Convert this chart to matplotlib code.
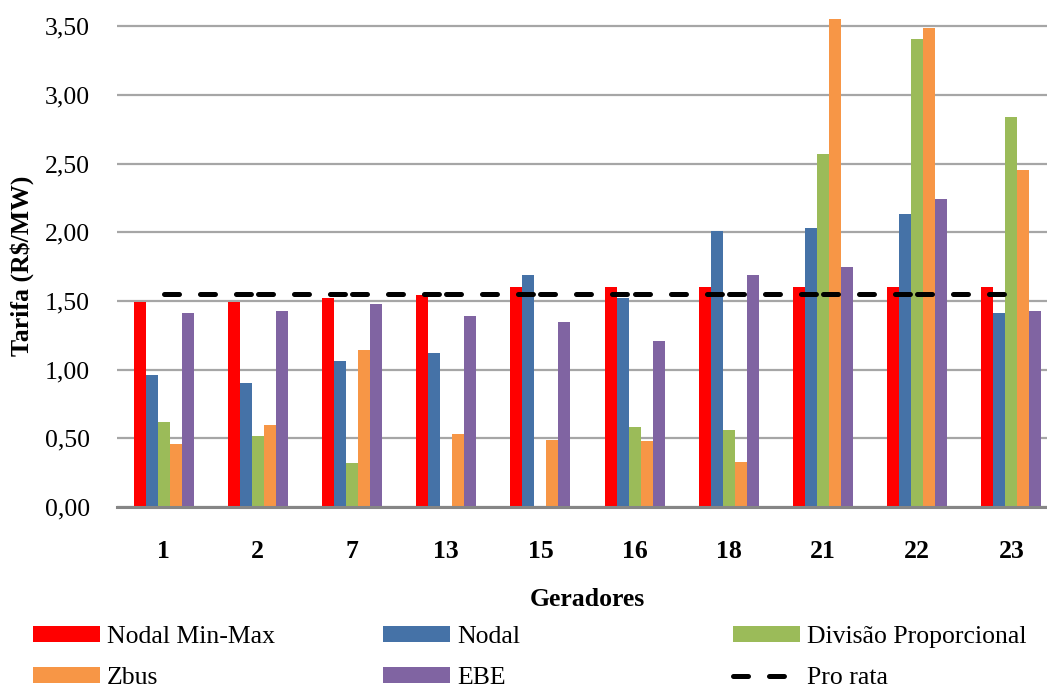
import matplotlib
matplotlib.use("Agg")
import matplotlib.pyplot as plt
from matplotlib.ticker import FuncFormatter
from matplotlib.lines import Line2D
import numpy as np

# Tariffs per generator (R$/MW)
geradores = ["1", "2", "7", "13", "15", "16", "18", "21", "22", "23"]
nodal_min_max = [1.49, 1.49, 1.52, 1.54, 1.60, 1.60, 1.60, 1.60, 1.60, 1.60]
nodal = [0.96, 0.90, 1.06, 1.12, 1.69, 1.52, 2.01, 2.03, 2.13, 1.41]
divisao_proporcional = [0.62, 0.52, 0.32, 0.00, 0.00, 0.58, 0.56, 2.57, 3.41, 2.84]
zbus = [0.46, 0.60, 1.14, 0.53, 0.49, 0.48, 0.33, 3.55, 3.49, 2.45]
ebe = [1.41, 1.43, 1.48, 1.39, 1.35, 1.21, 1.69, 1.75, 2.24, 1.43]
pro_rata = [1.55] * len(geradores)

series = [
    ("Nodal Min-Max", nodal_min_max, "#FF0000"),
    ("Nodal", nodal, "#4572A7"),
    ("Divisão Proporcional", divisao_proporcional, "#9BBB59"),
    ("Zbus", zbus, "#F79646"),
    ("EBE", ebe, "#8064A2"),
]

plt.rcParams["font.family"] = ["Liberation Serif", "DejaVu Serif"]
plt.rcParams["lines.scale_dashes"] = False
FS = 18.5

W, H = 1047, 688
fig = plt.figure(figsize=(W / 100, H / 100), dpi=100)
ax = fig.add_axes([116.5 / W, 181 / H, 942 / W, 494.6 / H])

x = np.arange(len(geradores))
bw = 0.1274
bars = []
for k, (name, vals, col) in enumerate(series):
    b = ax.bar(x + (k - 2) * bw, vals, width=bw, color=col, label=name,
               zorder=3, linewidth=0)
    bars.append(b)

# Pro rata line: each segment restarts its dash pattern
line_kw = dict(color="black", linewidth=3.6, dash_capstyle="round",
               dashes=(10.8, 15.1), zorder=4)
for i in range(len(x) - 1):
    ax.plot(x[i:i + 2], pro_rata[i:i + 2], **line_kw)

ax.set_xlim(-0.5, len(x) - 0.5)
ax.set_ylim(0, 3.6)
ax.set_yticks(np.arange(0, 3.51, 0.5))
ax.yaxis.set_major_formatter(FuncFormatter(lambda v, p: f"{v:.2f}".replace(".", ",")))
ax.set_xticks(x)
ax.set_xticklabels(geradores, fontweight="bold")
ax.tick_params(axis="both", length=0, labelsize=FS)
ax.tick_params(axis="x", pad=24)
ax.tick_params(axis="y", pad=19)

ax.grid(axis="y", color="#A6A6A6", linewidth=1.6, zorder=0)
ax.set_axisbelow(True)
for s in ["top", "right", "left"]:
    ax.spines[s].set_visible(False)
ax.spines["bottom"].set_color("#868686")
ax.spines["bottom"].set_linewidth(2.2)
ax.spines["bottom"].set_zorder(5)

fig.text(587.5 / W, 1 - 600 / H, "Geradores", ha="center", va="center",
         fontsize=FS, fontweight="bold")
fig.text(22 / W, 1 - 266 / H, "Tarifa (R$/MW)", ha="center", va="center",
         rotation=90, fontsize=FS, fontweight="bold")

pro_handle = Line2D([], [], color="black", linewidth=3.6, dash_capstyle="round",
                    dashes=(10.8, 15.1))
columns = [
    (33, [bars[0], bars[3]], ["Nodal Min-Max", "Zbus"]),
    (383, [bars[1], bars[4]], ["Nodal", "EBE"]),
    (733, [bars[2], pro_handle], ["Divisão Proporcional", "Pro rata"]),
]
for xpx, hs, ls in columns:
    fig.legend(hs, ls, loc="upper left", bbox_to_anchor=(xpx / W, 1 - 626 / H),
               frameon=False, prop={"family": ["Liberation Serif"], "size": FS},
               handlelength=2.6, handleheight=0.55,
               handletextpad=0.28, labelspacing=0.74, borderpad=0, borderaxespad=0)

fig.savefig("out.png", dpi=100)
